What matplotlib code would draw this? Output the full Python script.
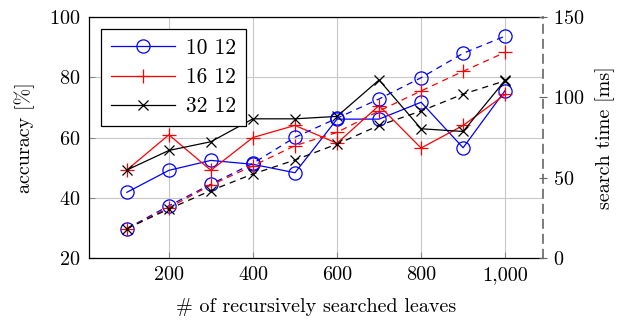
import matplotlib
matplotlib.use('Agg')
import matplotlib.pyplot as plt
from matplotlib.ticker import FuncFormatter

plt.rcParams['font.family'] = 'cmr10'
plt.rcParams['axes.formatter.use_mathtext'] = True
plt.rcParams['mathtext.fontset'] = 'cm'

# leaves searched
leaves = [100, 200, 300, 400, 500, 600, 700, 800, 900, 1000]

# accuracy [%] (solid lines, left axis)
acc_10 = [41.8, 49.1, 52.4, 51.1, 48.3, 66.1, 66.1, 71.7, 56.6, 75.6]
acc_16 = [49.2, 60.9, 49.1, 60.0, 64.0, 58.1, 70.6, 56.5, 64.0, 74.3]
acc_32 = [49.2, 55.7, 58.6, 66.2, 66.2, 67.0, 79.1, 62.9, 62.0, 79.0]

# search time [ms] (dashed lines, right axis)
time_10 = [18.3, 32.5, 45.9, 58.9, 75.1, 87.0, 99.0, 112.2, 127.4, 138.1]
time_16 = [18.3, 31.3, 45.4, 57.4, 69.9, 78.2, 91.5, 104.0, 116.2, 128.0]
time_32 = [18.3, 30.5, 42.0, 52.3, 61.0, 70.9, 82.5, 91.5, 102.0, 110.3]

labels = ['10 12', '16 12', '32 12']
fs = 14.5

fig = plt.figure(figsize=(6.33, 3.23), dpi=100)
ax = fig.add_axes([0.1406, 0.2012, 0.7172, 0.7462])
ax2 = ax.twinx()

lw = 0.9
ax.plot(leaves, acc_10, color='blue', marker='o', mfc='none', ms=9.5, lw=lw, mew=0.9, label=labels[0])
ax.plot(leaves, acc_16, color='red', marker='+', ms=10, lw=lw, mew=0.9, label=labels[1])
ax.plot(leaves, acc_32, color='black', marker='x', ms=7, lw=lw, mew=0.9, label=labels[2])

dash = (5, 4)
ax2.plot(leaves, time_10, color='blue', marker='o', mfc='none', ms=9.5, lw=lw, mew=0.9, dashes=dash)
ax2.plot(leaves, time_16, color='red', marker='+', ms=10, lw=lw, mew=0.9, dashes=dash)
ax2.plot(leaves, time_32, color='black', marker='x', ms=7, lw=lw, mew=0.9, dashes=dash)

ax.set_xlim(10, 1090)
ax.set_ylim(20, 100)
ax2.set_ylim(0, 150)
ax.set_xticks([200, 400, 600, 800, 1000])
ax.set_yticks([20, 40, 60, 80, 100])
ax2.set_yticks([0, 50, 100, 150])
ax.xaxis.set_major_formatter(FuncFormatter(lambda v, p: '{:,}'.format(int(v))))

ax.grid(True, color='#c8c8c8', lw=0.8)
ax.set_axisbelow(True)
ax.tick_params(axis='both', direction='in', length=4, color='#888888', labelsize=fs, pad=6)
ax2.tick_params(axis='y', direction='inout', length=6, color='#666666', labelsize=fs, pad=4)

ax.spines['right'].set_visible(False)
for s in ['left', 'top', 'bottom']:
    ax.spines[s].set_linewidth(0.9)
ax2.spines['left'].set_visible(False)
ax2.spines['top'].set_visible(False)
ax2.spines['bottom'].set_visible(False)
ax2.spines['right'].set_linestyle((0, (5, 4)))
ax2.spines['right'].set_color('#666666')
ax2.spines['right'].set_linewidth(1.2)

ax.set_xlabel('# of recursively searched leaves', fontsize=fs, labelpad=10)
ax.set_ylabel('accuracy [%]', fontsize=fs, labelpad=10)
ax2.set_ylabel('search time [ms]', fontsize=fs, labelpad=8)

leg = ax.legend(loc='upper left', fontsize=15.5, fancybox=False, edgecolor='black',
                framealpha=1, borderaxespad=0.55, handlelength=3.0, borderpad=0.45,
                labelspacing=0.45, handletextpad=0.5)
leg.get_frame().set_linewidth(0.9)

fig.savefig('out.png', dpi=100)
